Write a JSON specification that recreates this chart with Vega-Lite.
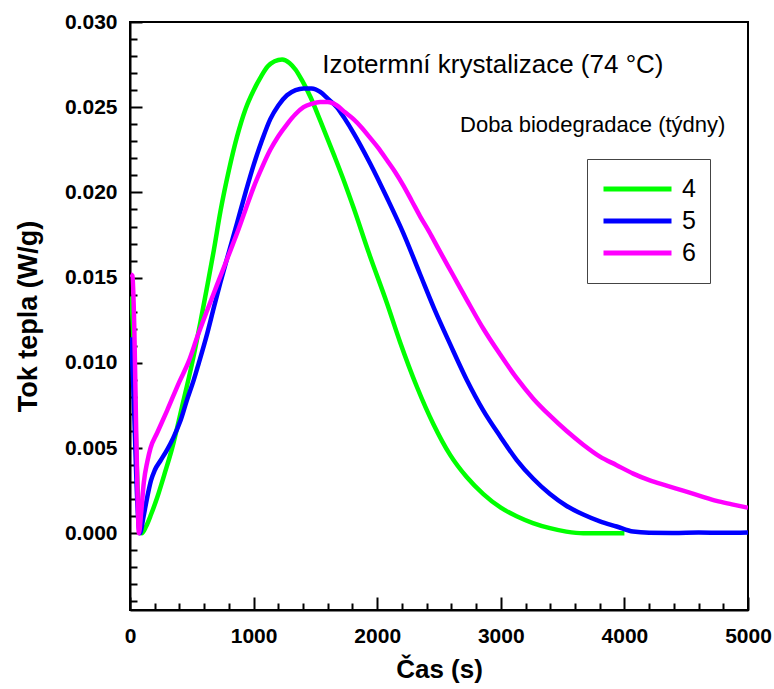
{
  "$schema": "https://vega.github.io/schema/vega-lite/v6.json",
  "width": 618,
  "height": 588,
  "autosize": "none",
  "padding": {"left": 130, "top": 22, "right": 26, "bottom": 79},
  "config": {
    "font": "Liberation Sans",
    "view": {"stroke": "black", "strokeWidth": 2},
    "axis": {
      "grid": false,
      "domainColor": "black",
      "domainWidth": 2,
      "tickColor": "black",
      "tickWidth": 2,
      "labelFont": "Liberation Sans",
      "labelFontSize": 21,
      "labelFontWeight": "bold",
      "labelColor": "black",
      "labelFlush": false,
      "labelOverlap": false,
      "titleFont": "Liberation Sans",
      "titleFontSize": 26,
      "titleFontWeight": "bold",
      "titleColor": "black"
    }
  },
  "datasets": {
    "curves": [
      {"t": 10, "q": 0.0139, "doba": "4"},
      {"t": 30, "q": 0.0110, "doba": "4"},
      {"t": 50, "q": 0.0050, "doba": "4"},
      {"t": 70, "q": 0.0015, "doba": "4"},
      {"t": 95, "q": 0.0000, "doba": "4"},
      {"t": 130, "q": 0.0004, "doba": "4"},
      {"t": 170, "q": 0.0011, "doba": "4"},
      {"t": 220, "q": 0.0021, "doba": "4"},
      {"t": 280, "q": 0.0035, "doba": "4"},
      {"t": 341, "q": 0.0050, "doba": "4"},
      {"t": 420, "q": 0.0074, "doba": "4"},
      {"t": 503, "q": 0.0100, "doba": "4"},
      {"t": 570, "q": 0.0124, "doba": "4"},
      {"t": 630, "q": 0.0147, "doba": "4"},
      {"t": 678, "q": 0.0166, "doba": "4"},
      {"t": 732, "q": 0.0189, "doba": "4"},
      {"t": 800, "q": 0.0213, "doba": "4"},
      {"t": 867, "q": 0.0233, "doba": "4"},
      {"t": 935, "q": 0.0249, "doba": "4"},
      {"t": 1001, "q": 0.0260, "doba": "4"},
      {"t": 1060, "q": 0.0268, "doba": "4"},
      {"t": 1115, "q": 0.0274, "doba": "4"},
      {"t": 1170, "q": 0.0277, "doba": "4"},
      {"t": 1231, "q": 0.0278, "doba": "4"},
      {"t": 1290, "q": 0.0276, "doba": "4"},
      {"t": 1340, "q": 0.0272, "doba": "4"},
      {"t": 1390, "q": 0.0266, "doba": "4"},
      {"t": 1460, "q": 0.0256, "doba": "4"},
      {"t": 1540, "q": 0.0242, "doba": "4"},
      {"t": 1650, "q": 0.0222, "doba": "4"},
      {"t": 1740, "q": 0.0205, "doba": "4"},
      {"t": 1809, "q": 0.0191, "doba": "4"},
      {"t": 1930, "q": 0.0165, "doba": "4"},
      {"t": 2079, "q": 0.0135, "doba": "4"},
      {"t": 2186, "q": 0.0112, "doba": "4"},
      {"t": 2321, "q": 0.0086, "doba": "4"},
      {"t": 2455, "q": 0.0064, "doba": "4"},
      {"t": 2590, "q": 0.0046, "doba": "4"},
      {"t": 2724, "q": 0.0033, "doba": "4"},
      {"t": 2859, "q": 0.0023, "doba": "4"},
      {"t": 3000, "q": 0.0015, "doba": "4"},
      {"t": 3128, "q": 0.0010, "doba": "4"},
      {"t": 3260, "q": 0.0006, "doba": "4"},
      {"t": 3398, "q": 0.0003, "doba": "4"},
      {"t": 3530, "q": 0.0001, "doba": "4"},
      {"t": 3667, "q": 0.0000, "doba": "4"},
      {"t": 3800, "q": 0.0000, "doba": "4"},
      {"t": 3900, "q": 0.0000, "doba": "4"},
      {"t": 4000, "q": 0.0000, "doba": "4"},

      {"t": 10, "q": 0.0115, "doba": "5"},
      {"t": 30, "q": 0.0080, "doba": "5"},
      {"t": 50, "q": 0.0035, "doba": "5"},
      {"t": 65, "q": 0.0010, "doba": "5"},
      {"t": 80, "q": 0.0000, "doba": "5"},
      {"t": 110, "q": 0.0010, "doba": "5"},
      {"t": 139, "q": 0.0021, "doba": "5"},
      {"t": 170, "q": 0.0031, "doba": "5"},
      {"t": 200, "q": 0.0037, "doba": "5"},
      {"t": 250, "q": 0.0043, "doba": "5"},
      {"t": 300, "q": 0.0049, "doba": "5"},
      {"t": 350, "q": 0.0056, "doba": "5"},
      {"t": 408, "q": 0.0066, "doba": "5"},
      {"t": 460, "q": 0.0078, "doba": "5"},
      {"t": 516, "q": 0.0090, "doba": "5"},
      {"t": 557, "q": 0.0100, "doba": "5"},
      {"t": 624, "q": 0.0117, "doba": "5"},
      {"t": 680, "q": 0.0133, "doba": "5"},
      {"t": 731, "q": 0.0147, "doba": "5"},
      {"t": 800, "q": 0.0165, "doba": "5"},
      {"t": 866, "q": 0.0182, "doba": "5"},
      {"t": 935, "q": 0.0200, "doba": "5"},
      {"t": 1000, "q": 0.0216, "doba": "5"},
      {"t": 1070, "q": 0.0231, "doba": "5"},
      {"t": 1135, "q": 0.0243, "doba": "5"},
      {"t": 1200, "q": 0.0251, "doba": "5"},
      {"t": 1270, "q": 0.0257, "doba": "5"},
      {"t": 1340, "q": 0.0260, "doba": "5"},
      {"t": 1404, "q": 0.0261, "doba": "5"},
      {"t": 1470, "q": 0.0261, "doba": "5"},
      {"t": 1539, "q": 0.0259, "doba": "5"},
      {"t": 1600, "q": 0.0255, "doba": "5"},
      {"t": 1674, "q": 0.0250, "doba": "5"},
      {"t": 1740, "q": 0.0243, "doba": "5"},
      {"t": 1808, "q": 0.0235, "doba": "5"},
      {"t": 1943, "q": 0.0217, "doba": "5"},
      {"t": 2078, "q": 0.0197, "doba": "5"},
      {"t": 2212, "q": 0.0176, "doba": "5"},
      {"t": 2347, "q": 0.0152, "doba": "5"},
      {"t": 2460, "q": 0.0132, "doba": "5"},
      {"t": 2590, "q": 0.0111, "doba": "5"},
      {"t": 2725, "q": 0.0090, "doba": "5"},
      {"t": 2859, "q": 0.0072, "doba": "5"},
      {"t": 2994, "q": 0.0057, "doba": "5"},
      {"t": 3129, "q": 0.0043, "doba": "5"},
      {"t": 3263, "q": 0.0032, "doba": "5"},
      {"t": 3398, "q": 0.0023, "doba": "5"},
      {"t": 3533, "q": 0.0016, "doba": "5"},
      {"t": 3667, "q": 0.0011, "doba": "5"},
      {"t": 3802, "q": 0.0007, "doba": "5"},
      {"t": 3937, "q": 0.0004, "doba": "5"},
      {"t": 4071, "q": 0.0001, "doba": "5"},
      {"t": 4200, "q": 0.00003, "doba": "5"},
      {"t": 4400, "q": 0.00002, "doba": "5"},
      {"t": 4600, "q": 0.00004, "doba": "5"},
      {"t": 4800, "q": 0.00003, "doba": "5"},
      {"t": 5000, "q": 0.00005, "doba": "5"},

      {"t": 5, "q": 0.0152, "doba": "6"},
      {"t": 20, "q": 0.0151, "doba": "6"},
      {"t": 35, "q": 0.0120, "doba": "6"},
      {"t": 50, "q": 0.0060, "doba": "6"},
      {"t": 62, "q": 0.0020, "doba": "6"},
      {"t": 72, "q": 0.0000, "doba": "6"},
      {"t": 90, "q": 0.0012, "doba": "6"},
      {"t": 112, "q": 0.0030, "doba": "6"},
      {"t": 140, "q": 0.0042, "doba": "6"},
      {"t": 166, "q": 0.0050, "doba": "6"},
      {"t": 220, "q": 0.0059, "doba": "6"},
      {"t": 300, "q": 0.0072, "doba": "6"},
      {"t": 400, "q": 0.0089, "doba": "6"},
      {"t": 476, "q": 0.0101, "doba": "6"},
      {"t": 543, "q": 0.0115, "doba": "6"},
      {"t": 620, "q": 0.0130, "doba": "6"},
      {"t": 700, "q": 0.0145, "doba": "6"},
      {"t": 813, "q": 0.0166, "doba": "6"},
      {"t": 866, "q": 0.0176, "doba": "6"},
      {"t": 935, "q": 0.0190, "doba": "6"},
      {"t": 1000, "q": 0.0203, "doba": "6"},
      {"t": 1070, "q": 0.0215, "doba": "6"},
      {"t": 1135, "q": 0.0225, "doba": "6"},
      {"t": 1200, "q": 0.0233, "doba": "6"},
      {"t": 1270, "q": 0.0240, "doba": "6"},
      {"t": 1340, "q": 0.0246, "doba": "6"},
      {"t": 1404, "q": 0.0250, "doba": "6"},
      {"t": 1470, "q": 0.0252, "doba": "6"},
      {"t": 1539, "q": 0.0253, "doba": "6"},
      {"t": 1600, "q": 0.0253, "doba": "6"},
      {"t": 1674, "q": 0.0251, "doba": "6"},
      {"t": 1740, "q": 0.0247, "doba": "6"},
      {"t": 1808, "q": 0.0243, "doba": "6"},
      {"t": 1875, "q": 0.0238, "doba": "6"},
      {"t": 1943, "q": 0.0232, "doba": "6"},
      {"t": 2010, "q": 0.0226, "doba": "6"},
      {"t": 2078, "q": 0.0219, "doba": "6"},
      {"t": 2145, "q": 0.0212, "doba": "6"},
      {"t": 2212, "q": 0.0204, "doba": "6"},
      {"t": 2280, "q": 0.0195, "doba": "6"},
      {"t": 2347, "q": 0.0186, "doba": "6"},
      {"t": 2420, "q": 0.0177, "doba": "6"},
      {"t": 2495, "q": 0.0167, "doba": "6"},
      {"t": 2610, "q": 0.0152, "doba": "6"},
      {"t": 2725, "q": 0.0137, "doba": "6"},
      {"t": 2859, "q": 0.0120, "doba": "6"},
      {"t": 2994, "q": 0.0105, "doba": "6"},
      {"t": 3129, "q": 0.0091, "doba": "6"},
      {"t": 3263, "q": 0.0079, "doba": "6"},
      {"t": 3398, "q": 0.0069, "doba": "6"},
      {"t": 3533, "q": 0.0060, "doba": "6"},
      {"t": 3667, "q": 0.0052, "doba": "6"},
      {"t": 3802, "q": 0.0045, "doba": "6"},
      {"t": 3937, "q": 0.0040, "doba": "6"},
      {"t": 4071, "q": 0.0035, "doba": "6"},
      {"t": 4206, "q": 0.0031, "doba": "6"},
      {"t": 4341, "q": 0.0028, "doba": "6"},
      {"t": 4475, "q": 0.0025, "doba": "6"},
      {"t": 4610, "q": 0.0022, "doba": "6"},
      {"t": 4745, "q": 0.0019, "doba": "6"},
      {"t": 4870, "q": 0.0017, "doba": "6"},
      {"t": 5000, "q": 0.0015, "doba": "6"}
    ]
  },
  "layer": [
    {
      "data": {"name": "curves"},
      "mark": {"type": "line", "strokeWidth": 4.5, "clip": true, "interpolate": "monotone"},
      "encoding": {
        "x": {
          "field": "t",
          "type": "quantitative",
          "scale": {"domain": [0, 5000], "nice": false, "zero": false},
          "axis": {
            "orient": "bottom",
            "values": [0, 1000, 2000, 3000, 4000, 5000],
            "format": "d",
            "tickSize": -13,
            "labelPadding": 28,
            "title": "Čas (s)",
            "titlePadding": 10
          }
        },
        "y": {
          "field": "q",
          "type": "quantitative",
          "scale": {"domain": [-0.0045, 0.03], "nice": false, "zero": false},
          "axis": {
            "orient": "left",
            "values": [0, 0.005, 0.01, 0.015, 0.02, 0.025, 0.03],
            "format": ".3f",
            "tickSize": -12,
            "labelPadding": 25,
            "title": "Tok tepla (W/g)",
            "titleFontSize": 27,
            "titlePadding": 22
          }
        },
        "color": {
          "field": "doba",
          "type": "nominal",
          "scale": {"domain": ["4", "5", "6"], "range": ["#00ff00", "#0000ff", "#ff00ff"]},
          "legend": {
            "orient": "none",
            "legendX": 457,
            "legendY": 137,
            "title": null,
            "symbolType": "stroke",
            "symbolSize": 4624,
            "symbolStrokeWidth": 5,
            "clipHeight": 32,
            "labelFont": "Liberation Sans",
            "labelFontSize": 25,
            "labelColor": "black",
            "labelOffset": 8,
            "rowPadding": 0,
            "padding": 14,
            "strokeColor": "#444444",
            "fillColor": "white"
          }
        }
      }
    },
    {
      "data": {"values": [{}]},
      "mark": {"type": "text", "align": "left", "baseline": "alphabetic", "fontSize": 26, "font": "Liberation Sans", "color": "black", "text": "Izotermní krystalizace (74 °C)"},
      "encoding": {
        "x": {"datum": 1555, "type": "quantitative", "axis": null},
        "y": {
          "datum": 0.0270,
          "type": "quantitative",
          "axis": {
            "orient": "left",
            "values": [-0.004, -0.003, -0.002, -0.001, 0.001, 0.002, 0.003, 0.004, 0.006, 0.007, 0.008, 0.009, 0.011, 0.012, 0.013, 0.014, 0.016, 0.017, 0.018, 0.019, 0.021, 0.022, 0.023, 0.024, 0.026, 0.027, 0.028, 0.029],
            "tickSize": -7,
            "tickWidth": 2,
            "labels": false,
            "domain": false,
            "title": null
          }
        }
      }
    },
    {
      "data": {"values": [{}]},
      "mark": {"type": "text", "align": "left", "baseline": "alphabetic", "fontSize": 22, "font": "Liberation Sans", "color": "black", "text": "Doba biodegradace (týdny)"},
      "encoding": {
        "x": {
          "datum": 2670,
          "type": "quantitative",
          "axis": {
            "orient": "bottom",
            "values": [200, 400, 600, 800, 1200, 1400, 1600, 1800, 2200, 2400, 2600, 2800, 3200, 3400, 3600, 3800, 4200, 4400, 4600, 4800],
            "tickSize": -7,
            "tickWidth": 2,
            "labels": false,
            "domain": false,
            "title": null
          }
        },
        "y": {"datum": 0.02356, "type": "quantitative", "axis": null}
      }
    }
  ],
  "resolve": {"axis": {"x": "independent", "y": "independent"}}
}
